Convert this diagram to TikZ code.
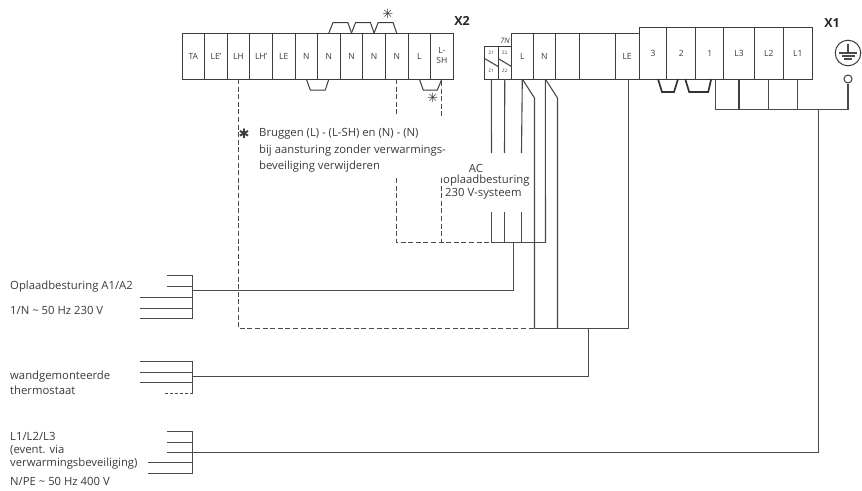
\documentclass[tikz,border=0pt]{standalone}
\usepackage{fontspec}
\usepackage{tikz}
\usetikzlibrary{positioning}
\setmainfont{Open Sans}
\newfontfamily\symbolfont{DejaVu Sans}
\definecolor{WireGray}{HTML}{4A4A4A}
\definecolor{BlockGray}{HTML}{3C3C3C}
\definecolor{TextGray}{HTML}{3A3A3A}
\tikzset{
  term/.style = {draw=BlockGray, line width=1pt, inner sep=0pt, outer sep=0pt, text=TextGray, font=\fontsize{8.5}{9}\selectfont, minimum height=46pt, align=center},
  highterm/.style = {term, minimum height=52pt},
  smallterm/.style = {draw=BlockGray, line width=0.8pt, inner sep=0pt, outer sep=0pt, minimum width=13.5pt, minimum height=33pt},
  smalltxt/.style = {text=TextGray, font=\fontsize{4.5}{4.5}\selectfont, inner sep=0pt},
  wire/.style = {draw=WireGray, line width=1.1pt},
  dwire/.style = {wire, dash pattern=on 5pt off 2.6pt},
  bridge/.style = {draw=BlockGray, line width=1pt},
  heavybridge/.style = {draw=black!80, line width=1.7pt},
  txt/.style = {text=TextGray, font=\fontsize{11.3}{12}\selectfont, anchor=west, inner sep=0pt},
  starmark/.style = {text=TextGray, inner sep=0pt, font=\symbolfont\fontsize{13}{13}\selectfont},
  blocklabel/.style = {font=\bfseries\fontsize{12.5}{13}\selectfont, text=black!85, inner sep=0pt},
}
\begin{document}
\begin{tikzpicture}[x=1pt, y=-1pt, node distance=0pt]
  \useasboundingbox (0,0) rectangle (862,490);
  % X2
  \node[term, minimum width=22.6pt] (ta) at (193.3,56) {TA};
  \node[term, minimum width=22.6pt] (lea) [right=of ta] {LE'};
  \node[term, minimum width=22.6pt] (lh) [right=of lea] {LH};
  \node[term, minimum width=22.6pt] (lhb) [right=of lh] {LH'};
  \node[term, minimum width=22.6pt] (le) [right=of lhb] {LE};
  \node[term, minimum width=22.6pt] (n1) [right=of le] {N};
  \node[term, minimum width=22.6pt] (n2) [right=of n1] {N};
  \node[term, minimum width=22.6pt] (n3) [right=of n2] {N};
  \node[term, minimum width=22.6pt] (n4) [right=of n3] {N};
  \node[term, minimum width=22.6pt] (n5) [right=of n4] {N};
  \node[term, minimum width=22.6pt] (l) [right=of n5] {L};
  \node[term, minimum width=22.6pt] (lsh) [right=of l] {L-\\[1pt]SH};
  \node[blocklabel] (x2) at (462,21) {X2};
  % X1
  \node[term, minimum width=22pt] (al) at (522.3,56) {L};
  \node[term, minimum width=22pt] (an) [right=of al] {N};
  \node[term, minimum width=24pt] (ae) [right=of an] {};
  \node[term, minimum width=36pt] (af) [right=of ae] {};
  \node[term, minimum width=23.7pt] (ale) [right=of af] {LE};
  \node[highterm, minimum width=27.8pt] (t3) at (653,53) {3};
  \node[highterm, minimum width=28.6pt] (t2) [right=of t3] {2};
  \node[highterm, minimum width=28.4pt] (t1) [right=of t2] {1};
  \node[highterm, minimum width=30.3pt] (l3) [right=of t1] {L3};
  \node[highterm, minimum width=29.3pt] (l2) [right=of l3] {L2};
  \node[highterm, minimum width=28.7pt] (l1) [right=of l2] {L1};
  \node[blocklabel] (x1) at (832,23) {X1};
  % small terminals
  \node[smallterm] (z1) at (491.3,62.5) {};
  \node[smallterm] (z3) at (504.8,62.5) {};
  \node[smalltxt] (z1a) at (491.3,53) {Z1};
  \node[smalltxt] (z1b) at (491.3,71) {Z1};
  \node[smalltxt] (z3a) at (504.8,53) {Z2};
  \node[smalltxt] (z3b) at (504.8,71) {Z2};
  \draw[wire] (z1.west) ++(0,-4) -- ++(13.5,8);
  \draw[wire] (z3.west) ++(0,-4) -- ++(13.5,8);
  \node[smalltxt, font=\itshape\fontsize{7.5}{8}\selectfont] (zn) at (505,40.5) {7N};
  % earth
  \node[circle, draw=BlockGray, line width=1pt, minimum size=25.6pt, inner sep=0pt] (pe) at (848,53) {};
  \node[circle, draw=BlockGray, line width=1pt, minimum size=8pt, inner sep=0pt] (pt) at (848,79) {};
  \draw[wire] (pe.north) ++(0,4) -- (pe.center);
  \draw[wire] (pe.center) ++(-9,0) -- ++(18,0);
  \draw[wire] (pe.center) ++(-6.5,3) -- ++(13,0);
  \draw[wire] (pe.center) ++(-4,6) -- ++(8,0);
  % jumpers
  \draw[bridge] (n2.north) -- ++(4,-10.3) -- ++(15,0) -- (n3.north);
  \draw[bridge] (n3.north) -- ++(4,-10.3) -- ++(15,0) -- (n4.north);
  \draw[bridge] (n4.north) -- ++(4,-10.3) -- ++(15,0) -- (n5.north);
  \draw[bridge] (n1.south) -- ++(4,11) -- ++(15,0) -- (n2.south);
  \draw[bridge] (l.south) -- ++(4,11) -- ++(14,0) -- (lsh.south);
  \draw[heavybridge] (t3.south) ++(5,0) -- ++(4,13) -- ++(12,0) -- ++(4,-13);
  \draw[heavybridge] (t2.south) ++(4,0) -- ++(4,13) -- ++(19,0) -- ++(3,-13);
  \node[starmark] (s1) at (387.7,14) {✳};
  \node[starmark] (s2) at (432.7,98) {✳};
  \node[starmark] (s3) at (244,134) {✱};
  % text
  \node[txt] (t1a) at (259,134) {Bruggen (L) - (L-SH) en (N) - (N)};
  \node[txt] (t1b) at (259,150.5) {bij aansturing zonder verwarmings-};
  \node[txt] (t1c) at (259,167) {beveiliging verwijderen};
  \node[txt, anchor=center] (ac1) at (476,168) {AC};
  \node[txt] (ac2) at (443,181) {oplaadbesturing};
  \node[txt] (ac3) at (445,194) {230 V-systeem};
  \node[txt] (g1a) at (10,286.7) {Oplaadbesturing A1/A2};
  \node[txt] (g1b) at (10,310) {1/N \textasciitilde{} 50 Hz 230 V};
  \node[txt] (g2a) at (10,377) {wandgemonteerde};
  \node[txt] (g2b) at (10,390) {thermostaat};
  \node[txt] (g3a) at (10,436.7) {L1/L2/L3};
  \node[txt] (g3b) at (10,450.7) {(event. via};
  \node[txt] (g3c) at (10,464) {verwarmingsbeveiliging)};
  \node[txt] (g3d) at (10,481.7) {N/PE \textasciitilde{} 50 Hz 400 V};
  % junctions
  \coordinate (j1) at (513.5,242.5);
  \coordinate (j2) at (192.5,290.5);
  \coordinate (j3) at (588.5,328.5);
  \coordinate (j4) at (192.5,376.5);
  \coordinate (j5) at (818.5,109.5);
  \coordinate (j6) at (192.5,452.5);
  \coordinate (a) at (491.5,153);
  \coordinate (b) at (504.5,153);
  \coordinate (c) at (521.5,153);
  \coordinate (d) at (491.5,212);
  \coordinate (e) at (504.5,212);
  \coordinate (f) at (521.5,212);
  \coordinate (g) at (534.5,98);
  \coordinate (h) at (557.5,98);
  \coordinate (i) at (545.5,242.5);
  \coordinate (r) at (628.5,328.5);
  % wires
  \draw[wire] (z1.south) -- (a);
  \draw[wire] (z3.south) -- (b);
  \draw[wire] (al.south) -- (c);
  \draw[wire] (d) -- (d |- i);
  \draw[wire] (e) -- (e |- i);
  \draw[wire] (f) -- (f |- i);
  \draw[wire] (d |- i) -- (i);
  \draw[wire] (an.south) ++(1,0) -- (i);
  \draw[wire] (al.south) -- (g) -- (g |- j3);
  \draw[wire] (an.south) ++(1,0) -- (h) -- (h |- j3);
  \draw[wire] (g |- j3) -- (r) -- (ale.south -| r);
  \draw[wire] (j3) -- (j3 |- j4) -- (j4);
  \draw[wire] (j1) |- (j2);
  \draw[wire] (j5) -- (j5 |- j6) -- (j6);
  \draw[wire] (t1.south) ++(6,0) -- ++(0,30.5) -| (pt.south);
  \draw[wire, line width=1.5pt, draw=black!75] (l3.south) -- ++(0,30.5);
  \draw[wire] (l2.south) -- ++(0,30.5);
  \draw[wire] (l1.south) -- ++(0,30.5);
  % dashed
  \draw[dwire] (lh.south) -- (lh.south |- j3) -- (g |- j3);
  \draw[dwire] (n5.south) -- ++(0,37);
  \draw[dwire] (lsh.south) ++(0,2) -- ++(0,35);
  \draw[dwire] (n5.south |- ac1) ++(0,10) -- (n5.south |- i) -- (d |- i);
  \draw[dwire] (lsh.south |- ac2) ++(0,-3) -- (lsh.south |- i);
  % left side
  \draw[wire] (167,275.5) -- (192.5,275.5) -- (192.5,318.5) -- (140,318.5);
  \draw[wire] (167,286.5) -- (192.5,286.5);
  \draw[wire] (140,297.5) -- (192.5,297.5);
  \draw[wire] (140,308.5) -- (192.5,308.5);
  \draw[wire] (140,361.5) -- (192.5,361.5) -- (192.5,393.5);
  \draw[wire] (140,372.5) -- (192.5,372.5);
  \draw[wire] (140,382.5) -- (192.5,382.5);
  \draw[dwire, dash pattern=on 3pt off 2pt] (165,393.5) -- (192.5,393.5);
  \draw[wire] (167,431.5) -- (192.5,431.5) -- (192.5,473.5) -- (148,473.5);
  \draw[wire] (167,442.5) -- (192.5,442.5);
  \draw[wire] (167,452.5) -- (192.5,452.5);
  \draw[wire] (148,462.5) -- (192.5,462.5);
\end{tikzpicture}
\end{document}
